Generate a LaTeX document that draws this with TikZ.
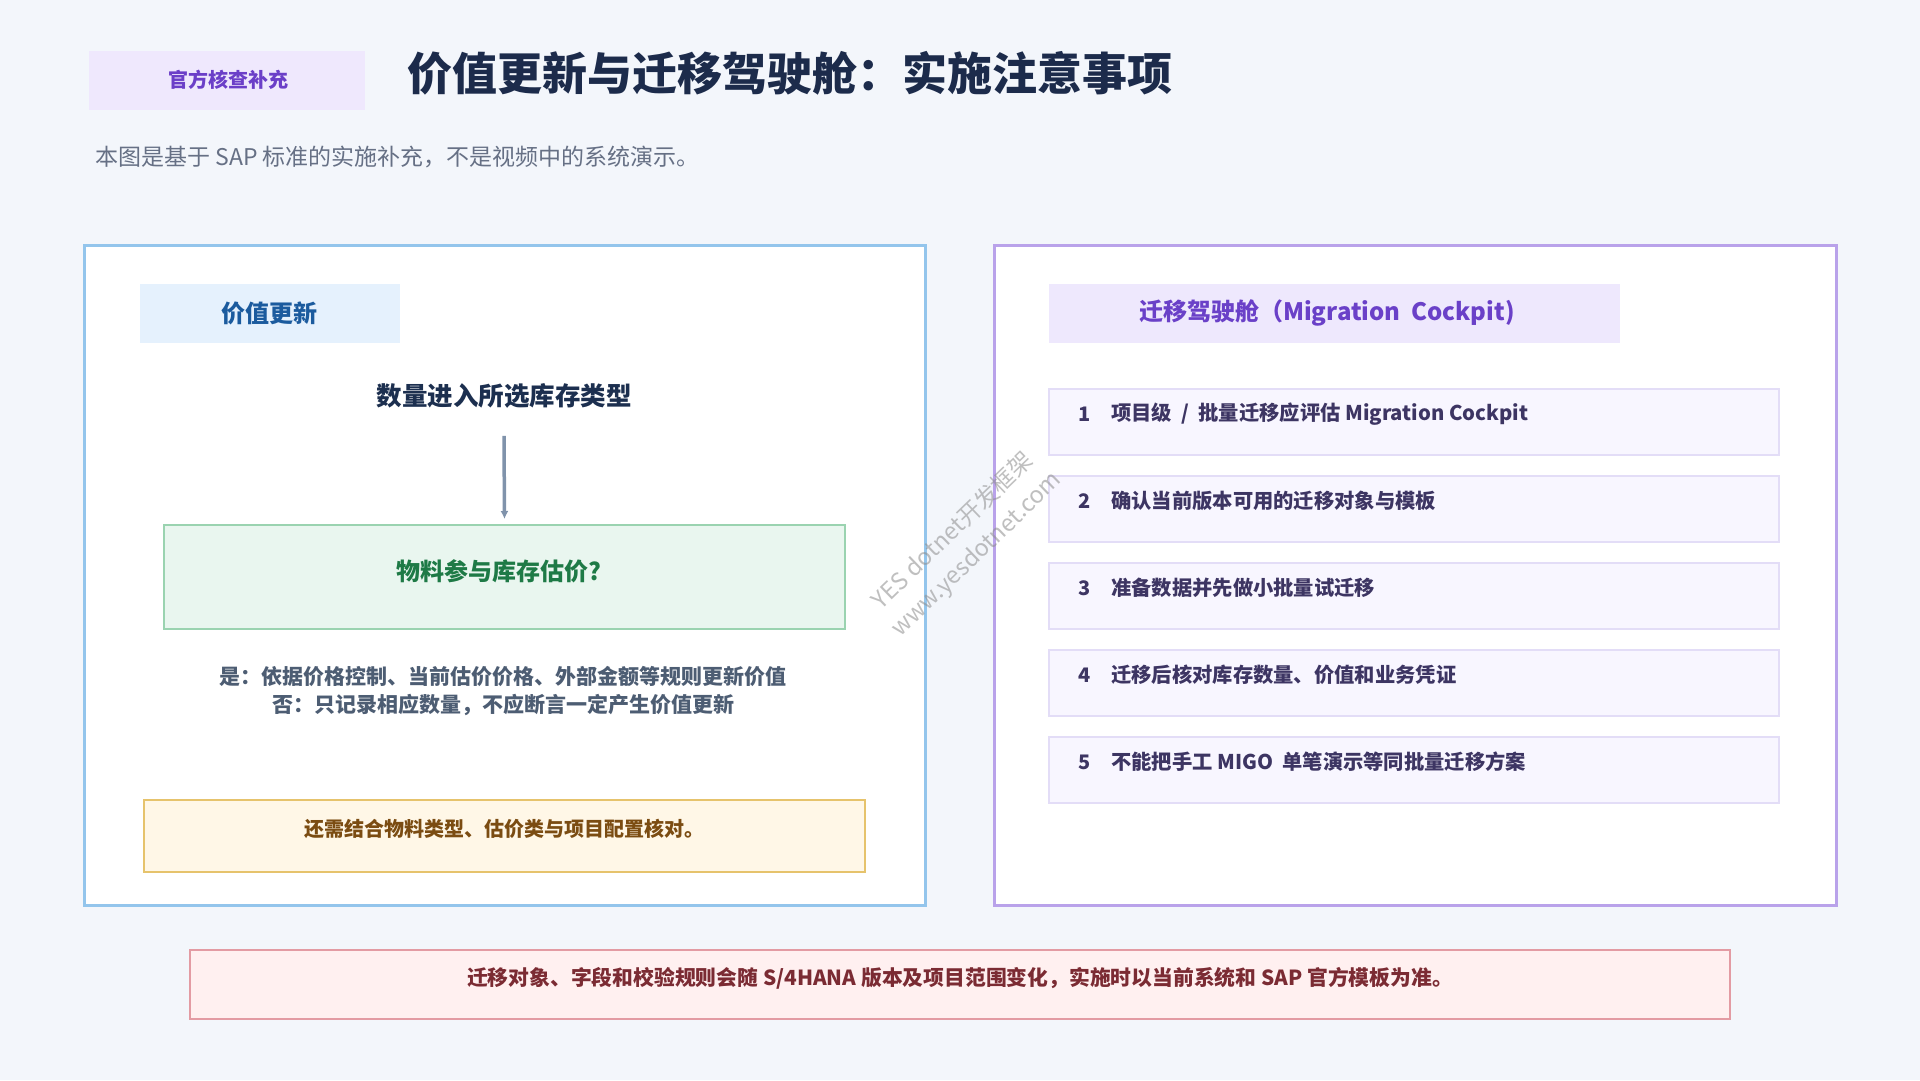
\documentclass[tikz,border=0pt]{standalone}
\usepackage{fontspec}
\setmainfont{Noto Sans CJK SC}
\usetikzlibrary{arrows.meta}
\definecolor{bg}{HTML}{F3F6FB}
\definecolor{badgefill}{HTML}{EFE8FD}
\definecolor{badgetext}{HTML}{6B3FC8}
\definecolor{titletext}{HTML}{1C2B4B}
\definecolor{subtext}{HTML}{667085}
\definecolor{lpborder}{HTML}{93C5EC}
\definecolor{lhfill}{HTML}{E5F1FD}
\definecolor{lhtext}{HTML}{1B5B9E}
\definecolor{qtytext}{HTML}{1C2F4F}
\definecolor{arrowc}{HTML}{8093AB}
\definecolor{gfill}{HTML}{E9F6EF}
\definecolor{gborder}{HTML}{9AD3B0}
\definecolor{gtext}{HTML}{1E7A46}
\definecolor{yntext}{HTML}{4D5D73}
\definecolor{yfill}{HTML}{FFF7E7}
\definecolor{yborder}{HTML}{E6C36C}
\definecolor{ytext}{HTML}{7B4C12}
\definecolor{rpborder}{HTML}{B9A2EA}
\definecolor{rhfill}{HTML}{EEE8FD}
\definecolor{rhtext}{HTML}{6A40C8}
\definecolor{ifill}{HTML}{F8F6FF}
\definecolor{iborder}{HTML}{E3DDF7}
\definecolor{itext}{HTML}{3D3563}
\definecolor{bfill}{HTML}{FFF0F0}
\definecolor{bborder}{HTML}{E39BA3}
\definecolor{btext}{HTML}{7B2B33}
\begin{document}
\begin{tikzpicture}[x=1pt,y=-1pt,
  box/.style={rectangle, inner sep=0pt, outer sep=0pt},
  panel/.style={box, fill=white, line width=3pt},
  itembox/.style={box, fill=ifill, draw=iborder, line width=2pt, minimum width=730pt, minimum height=66pt},
  itemnum/.style={anchor=west, inner sep=0pt, text=itext, font=\bfseries\fontsize{20}{24}\selectfont},
  itemtxt/.style={anchor=west, inner sep=0pt, text=itext, font=\bfseries\fontsize{20.3}{24}\selectfont},
  wm/.style={text=black!45, opacity=0.55, rotate=44, inner sep=0pt, font=\fontsize{23.5}{26}\selectfont}
]
\useasboundingbox[fill=bg] (0,0) rectangle (1920,1080);

% header
\node[box, fill=badgefill, minimum width=276pt, minimum height=59pt] (badge) at (227,80.5) {};
\node[text=badgetext, font=\bfseries\fontsize{20}{24}\selectfont] (badgetxt) at (228,80) {官方核查补充};
\node[anchor=west, inner sep=0pt, text=titletext, font=\bfseries\fontsize{45}{50}\selectfont] (title) at (407,73) {价值更新与迁移驾驶舱：实施注意事项};
\node[anchor=west, inner sep=0pt, text=subtext, font=\fontsize{23}{27}\selectfont] (subtitle) at (95,157) {本图是基于 SAP 标准的实施补充，不是视频中的系统演示。};

% left panel
\node[panel, draw=lpborder, minimum width=841pt, minimum height=660pt] (lpanel) at (504.5,575) {};
\node[box, fill=lhfill, minimum width=260pt, minimum height=59pt] (lhead) at (270,313.5) {};
\node[text=lhtext, font=\bfseries\fontsize{24}{28}\selectfont] (lheadtxt) at (269,313) {价值更新};
\node[text=qtytext, font=\bfseries\fontsize{25.5}{30}\selectfont] (qty) at (504,396) {数量进入所选库存类型};
\node[box, fill=gfill, draw=gborder, line width=2pt, minimum width=681pt, minimum height=104pt] (green) at (504.5,577) {};
\node[text=gtext, font=\bfseries\fontsize{24}{28}\selectfont] (greentxt) at (499,571) {物料参与库存估价?};
\draw[arrowc, line width=3.5pt, -{Latex[length=8pt,width=8pt]}] ([yshift=-24pt]qty.south) -- ([yshift=6pt]green.north);
\node[text=yntext, align=center, font=\bfseries\fontsize{21}{28}\selectfont] (yesno) at (503,691) {是：依据价格控制、当前估价价格、外部金额等规则更新价值\\否：只记录相应数量，不应断言一定产生价值更新};
\node[box, fill=yfill, draw=yborder, line width=2pt, minimum width=721pt, minimum height=72pt] (yellow) at (504.5,836) {};
\node[text=ytext, font=\bfseries\fontsize{20}{24}\selectfont] (yellowtxt) at (504,829) {还需结合物料类型、估价类与项目配置核对。};

% right panel
\node[panel, draw=rpborder, minimum width=842pt, minimum height=660pt] (rpanel) at (1415,575) {};
\node[box, fill=rhfill, minimum width=571pt, minimum height=59pt] (rhead) at (1334.5,313.5) {};
\node[text=rhtext, font=\bfseries\fontsize{24}{28}\selectfont] (rheadtxt) at (1327,313) {迁移驾驶舱（Migration\ \ Cockpit)};

\node[itembox] (i1) at (1414,422) {};
\node[itemnum] (n1) at (1078,414) {1};
\node[itemtxt] (t1) at (1111,414) {项目级\ \ /\ \ 批量迁移应评估 Migration Cockpit};
\node[itembox] (i2) at (1414,509) {};
\node[itemnum] (n2) at (1078,501) {2};
\node[itemtxt] (t2) at (1111,501) {确认当前版本可用的迁移对象与模板};
\node[itembox] (i3) at (1414,596) {};
\node[itemnum] (n3) at (1078,588) {3};
\node[itemtxt] (t3) at (1111,588) {准备数据并先做小批量试迁移};
\node[itembox] (i4) at (1414,683) {};
\node[itemnum] (n4) at (1078,675) {4};
\node[itemtxt] (t4) at (1111,675) {迁移后核对库存数量、价值和业务凭证};
\node[itembox] (i5) at (1414,770) {};
\node[itemnum] (n5) at (1078,762) {5};
\node[itemtxt] (t5) at (1111,762) {不能把手工 MIGO\ \ 单笔演示等同批量迁移方案};

% bottom note
\node[box, fill=bfill, draw=bborder, line width=2pt, minimum width=1540pt, minimum height=69pt] (bottom) at (960,984.5) {};
\node[text=btext, font=\bfseries\fontsize{20.8}{24}\selectfont] (bottomtxt) at (960,978) {迁移对象、字段和校验规则会随 S/4HANA 版本及项目范围变化，实施时以当前系统和 SAP 官方模板为准。};

% watermark
\node[wm] (wm1) at (952,530) {YES dotnet开发框架};
\node[wm] (wm2) at (977,555) {www.yesdotnet.com};
\end{tikzpicture}
\end{document}
